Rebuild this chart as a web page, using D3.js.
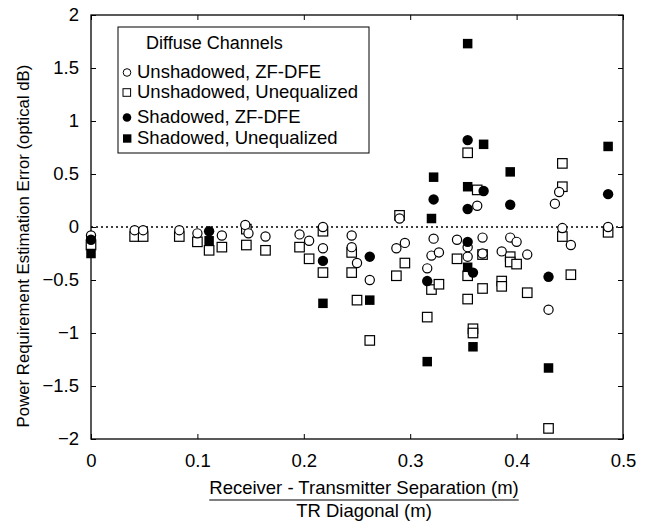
<!DOCTYPE html>
<html>
<head>
<meta charset="utf-8">
<script src="https://cdn.jsdelivr.net/npm/d3@7"></script>
<style>
  body { margin: 0; background: #fff; }
  svg { display: block; font-family: "Liberation Sans", Arial, sans-serif; }
</style>
</head>
<body>
<div id="chart"></div>
<script>
// data: [x, y] pairs
const unshZF = [
  [0, -0.08], [0.041, -0.03], [0.049, -0.03], [0.083, -0.03], [0.1, -0.06], [0.123, -0.08],
  [0.145, 0.02], [0.148, -0.06], [0.164, -0.09], [0.196, -0.07], [0.205, -0.13], [0.218, 0.0],
  [0.218, -0.2], [0.245, -0.08], [0.245, -0.19], [0.25, -0.34], [0.262, -0.5], [0.287, -0.2],
  [0.29, 0.08], [0.295, -0.15], [0.316, -0.39], [0.322, -0.11], [0.32, -0.27], [0.327, -0.24],
  [0.344, -0.12], [0.354, -0.19], [0.354, -0.28], [0.363, 0.2], [0.368, -0.1], [0.368, -0.25],
  [0.386, -0.23], [0.394, -0.1], [0.4, -0.14], [0.41, -0.26], [0.43, -0.78], [0.436, 0.22],
  [0.44, 0.33], [0.443, -0.01], [0.451, -0.17], [0.486, 0.0]
];
const unshUneq = [
  [0, -0.17], [0.041, -0.09], [0.049, -0.09], [0.083, -0.09], [0.1, -0.14], [0.111, -0.22],
  [0.123, -0.19], [0.146, -0.02], [0.146, -0.17], [0.164, -0.22], [0.196, -0.19], [0.205, -0.3],
  [0.218, -0.04], [0.218, -0.43], [0.245, -0.24], [0.245, -0.43], [0.25, -0.69], [0.262, -1.07],
  [0.287, -0.46], [0.29, 0.11], [0.295, -0.34], [0.316, -0.85], [0.32, -0.59], [0.327, -0.54],
  [0.344, -0.3], [0.354, -0.46], [0.354, -0.68], [0.354, 0.7], [0.359, -0.96], [0.359, -1.0],
  [0.363, 0.35], [0.368, -0.26], [0.368, -0.58], [0.386, -0.51], [0.386, -0.56], [0.394, -0.28],
  [0.394, -0.33], [0.4, -0.35], [0.41, -0.62], [0.43, -1.9], [0.443, 0.6], [0.443, 0.38],
  [0.443, -0.09], [0.451, -0.45], [0.486, -0.05]
];
const shZF = [
  [0, -0.12], [0.111, -0.04], [0.218, -0.32], [0.262, -0.28], [0.316, -0.51], [0.322, 0.26],
  [0.354, 0.82], [0.354, 0.17], [0.354, -0.14], [0.359, -0.43], [0.369, 0.34], [0.394, 0.21],
  [0.43, -0.47], [0.486, 0.31]
];
const shUneq = [
  [0, -0.25], [0.111, -0.13], [0.218, -0.72], [0.262, -0.69], [0.316, -1.27], [0.32, 0.08],
  [0.322, 0.47], [0.354, 1.73], [0.354, 0.38], [0.354, -0.38], [0.359, -1.13], [0.369, 0.78],
  [0.394, 0.52], [0.43, -1.33], [0.486, 0.76]
];
const xTicks = [0, 0.1, 0.2, 0.3, 0.4, 0.5];
const yTicks = [2, 1.5, 1, 0.5, 0, -0.5, -1, -1.5, -2];
const legendTitle = "Diffuse Channels";
const legendNames = ["Unshadowed, ZF-DFE", "Unshadowed, Unequalized", "Shadowed, ZF-DFE", "Shadowed, Unequalized"];

// sizes
const w = 647, h = 523;
const pLeft = 91, pRight = 623, pTop = 15, pBottom = 439;

const svg = d3.select("#chart").append("svg").attr("width", w).attr("height", h);

const x = d3.scaleLinear().domain([0, 0.5]).range([pLeft, pRight]);
const y = d3.scaleLinear().domain([-2, 2]).range([pBottom, pTop]);

// frame
svg.append("rect")
  .attr("x", pLeft).attr("y", pTop)
  .attr("width", pRight - pLeft).attr("height", pBottom - pTop)
  .attr("fill", "none").attr("stroke", "#000").attr("stroke-width", 1.3);

// axes with inward ticks
const fmt = d => d3.format("")(d);
svg.append("g")
  .attr("transform", "translate(0," + pBottom + ")")
  .call(d3.axisBottom(x).tickValues(xTicks).tickSizeInner(-5).tickSizeOuter(0).tickPadding(15).tickFormat(fmt))
  .call(g => g.select(".domain").remove());
svg.append("g")
  .attr("transform", "translate(0," + pTop + ")")
  .call(d3.axisTop(x).tickValues(xTicks).tickSizeInner(-5).tickSizeOuter(0).tickFormat(""))
  .call(g => g.select(".domain").remove());
svg.append("g")
  .attr("transform", "translate(" + pLeft + ",0)")
  .call(d3.axisLeft(y).tickValues(yTicks).tickSizeInner(-5).tickSizeOuter(0).tickPadding(12).tickFormat(fmt))
  .call(g => g.select(".domain").remove());
svg.append("g")
  .attr("transform", "translate(" + pRight + ",0)")
  .call(d3.axisRight(y).tickValues(yTicks).tickSizeInner(-5).tickSizeOuter(0).tickFormat(""))
  .call(g => g.select(".domain").remove());

svg.selectAll(".tick text").attr("font-size", 18.5).attr("fill", "#000").attr("font-family", "Liberation Sans, Arial, sans-serif");
svg.selectAll(".tick line").attr("stroke", "#000");

// zero reference line
svg.append("line")
  .attr("x1", x(0)).attr("x2", x(0.5))
  .attr("y1", y(0)).attr("y2", y(0))
  .attr("stroke", "#000").attr("stroke-width", 1.3)
  .attr("stroke-dasharray", "2,3");

// markers
const r = 4.6, s = 9.5;
const plot = svg.append("g");
plot.selectAll(".uu").data(unshUneq).enter().append("rect")
  .attr("x", d => x(d[0]) - s / 2).attr("y", d => y(d[1]) - s / 2)
  .attr("width", s).attr("height", s)
  .attr("fill", "#fff").attr("stroke", "#000").attr("stroke-width", 1.2);
plot.selectAll(".uz").data(unshZF).enter().append("circle")
  .attr("cx", d => x(d[0])).attr("cy", d => y(d[1])).attr("r", r)
  .attr("fill", "#fff").attr("stroke", "#000").attr("stroke-width", 1.2);
plot.selectAll(".su").data(shUneq).enter().append("rect")
  .attr("x", d => x(d[0]) - s / 2).attr("y", d => y(d[1]) - s / 2)
  .attr("width", s).attr("height", s)
  .attr("fill", "#000");
plot.selectAll(".sz").data(shZF).enter().append("circle")
  .attr("cx", d => x(d[0])).attr("cy", d => y(d[1])).attr("r", r + 0.6)
  .attr("fill", "#000");

// legend
const lg = svg.append("g");
lg.append("rect")
  .attr("x", 118).attr("y", 27).attr("width", 251).attr("height", 126)
  .attr("fill", "#fff").attr("stroke", "#000").attr("stroke-width", 1);
lg.append("text").attr("x", 146).attr("y", 49).attr("font-size", 18).text(legendTitle);
const legY = [78, 98, 123, 144];
legendNames.forEach((name, i) => {
  const cy = legY[i] - 5.5;
  if (i === 0) lg.append("circle").attr("cx", 127).attr("cy", cy).attr("r", 3.8).attr("fill", "#fff").attr("stroke", "#000");
  if (i === 1) lg.append("rect").attr("x", 123).attr("y", cy - 3.8).attr("width", 7.6).attr("height", 7.6).attr("fill", "#fff").attr("stroke", "#000");
  if (i === 2) lg.append("circle").attr("cx", 127).attr("cy", cy).attr("r", 4.3).attr("fill", "#000");
  if (i === 3) lg.append("rect").attr("x", 123).attr("y", cy - 4.2).attr("width", 8.4).attr("height", 8.4).attr("fill", "#000");
  lg.append("text").attr("x", 137).attr("y", legY[i]).attr("font-size", 18.5).text(name);
});

// axis titles
svg.append("text")
  .attr("transform", "translate(29,246) rotate(-90)")
  .attr("text-anchor", "middle").attr("font-size", 16.8)
  .text("Power Requirement Estimation Error (optical dB)");
const cx = (pLeft + pRight) / 2 + 7;
const xt = svg.append("text").attr("x", cx).attr("y", 494).attr("text-anchor", "middle").attr("font-size", 18.5)
  .text("Receiver - Transmitter Separation (m)");
const tw = xt.node().getComputedTextLength();
svg.append("line").attr("x1", cx - tw / 2).attr("x2", cx + tw / 2).attr("y1", 500).attr("y2", 500)
  .attr("stroke", "#000").attr("stroke-width", 1.2);
svg.append("text").attr("x", cx).attr("y", 517).attr("text-anchor", "middle").attr("font-size", 18.5)
  .text("TR Diagonal (m)");
</script>
</body>
</html>
